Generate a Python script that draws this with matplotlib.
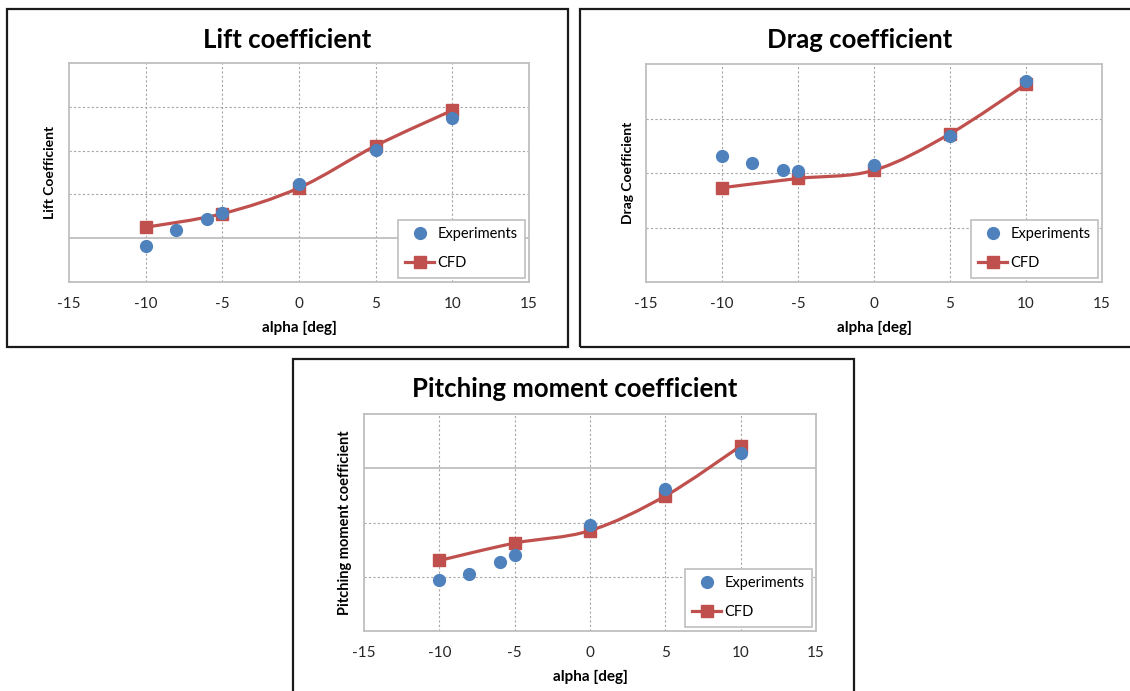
import numpy as np
import matplotlib
matplotlib.use("Agg")
import matplotlib.pyplot as plt
from matplotlib.path import Path
from matplotlib.patches import PathPatch, Rectangle
from matplotlib.lines import Line2D

plt.rcParams['font.family'] = ['Lato', 'DejaVu Sans']

# ---- data ----
alpha_exp = [-10, -8, -6, -5, 0, 5, 10]
alpha_cfd = [-10, -5, 0, 5, 10]

lift_exp = [-0.034, 0.036, 0.088, 0.114, 0.246, 0.404, 0.548]
lift_cfd = [0.050, 0.112, 0.230, 0.422, 0.584]

drag_exp = [0.0232, 0.0218, 0.0205, 0.0203, 0.0214, 0.0268, 0.0369]
drag_cfd = [0.0173, 0.0190, 0.0205, 0.0272, 0.0363]

pitch_exp = [-0.103, -0.0975, -0.086, -0.0795, -0.052, -0.0195, 0.0145]
pitch_cfd = [-0.085, -0.069, -0.0575, -0.0255, 0.0205]

x_ticks = [-15, -10, -5, 0, 5, 10, 15]

BLUE = '#4F81BD'
RED = '#C0504D'
GRID = '#A6A6A6'
FRAME = '#BFBFBF'

W, H = 1130, 691
fig = plt.figure(figsize=(W / 100, H / 100), dpi=100)


def px_axes(x0, y0, x1, y1):
    return fig.add_axes([x0 / W, 1 - y1 / H, (x1 - x0) / W, (y1 - y0) / H])


def px_box(x0, y0, x1, y1):
    fig.patches.append(Rectangle((x0 / W, 1 - y1 / H), (x1 - x0) / W, (y1 - y0) / H,
                                 transform=fig.transFigure, fill=False,
                                 edgecolor='#1a1a1a', linewidth=1.6))


def smooth_path(xs, ys):
    # Bezier smoothing through the points (spreadsheet-style smoothed line)
    pts = np.column_stack([xs, ys]).astype(float)
    n = len(pts)
    verts = [pts[0]]
    codes = [Path.MOVETO]
    for i in range(n - 1):
        p0 = pts[i - 1] if i > 0 else pts[i]
        p1 = pts[i]
        p2 = pts[i + 1]
        p3 = pts[i + 2] if i + 2 < n else pts[i + 1]
        c1 = p1 + (p2 - p0) / 6.0
        c2 = p2 - (p3 - p1) / 6.0
        verts += [c1, c2, p2]
        codes += [Path.CURVE4] * 3
    return Path(verts, codes)


def panel(ax, title_xy, title, ylabel, exp, cfd, ylim, ystep, zero_solid, ylab_size=10):
    ax.set_xlim(-15, 15)
    ax.set_ylim(*ylim)
    ax.set_xticks(x_ticks)
    ax.set_xticklabels([str(t) for t in x_ticks], fontsize=11, color='#262626')
    ax.set_yticks([])
    ax.tick_params(axis='x', length=0, pad=11)
    for s in ax.spines.values():
        s.set_color(FRAME)
        s.set_linewidth(1.3)

    # grid
    for xv in x_ticks[1:-1]:
        ax.axvline(xv, color=GRID, lw=0.8, ls=(0, (2, 2)), zorder=1)
    yv = ylim[0] + ystep
    while yv < ylim[1] - 1e-9:
        if zero_solid and abs(yv) < 1e-9:
            ax.axhline(yv, color=FRAME, lw=1.3, zorder=1)
        else:
            ax.axhline(yv, color=GRID, lw=0.8, ls=(0, (2, 2)), zorder=1)
        yv += ystep

    ax.plot(alpha_exp, exp, 'o', color=BLUE, ms=8.5, mec=BLUE, zorder=4)
    ax.add_patch(PathPatch(smooth_path(alpha_cfd, cfd), fill=False,
                           edgecolor=RED, lw=2.3, zorder=3))
    ax.plot(alpha_cfd, cfd, 's', color=RED, ms=8.5, mec=RED, zorder=3)

    ax.set_xlabel('alpha [deg]', fontsize=11, fontweight='bold', labelpad=7)
    ax.set_ylabel(ylabel, fontsize=ylab_size, fontweight='bold', labelpad=9)

    handles = [Line2D([], [], ls='none', marker='o', color=BLUE, ms=8.5),
               Line2D([], [], color=RED, lw=2.3, marker='s', ms=8.5)]
    leg = ax.legend(handles, ['Experiments', 'CFD'], loc='lower right',
                    bbox_to_anchor=(1.0, 0.0), borderaxespad=0.3,
                    fontsize=10.5, fancybox=False, framealpha=1,
                    edgecolor=FRAME, handlelength=2.0, handletextpad=0.2,
                    labelspacing=1.05, borderpad=0.5, numpoints=1)
    leg.get_frame().set_linewidth(1.2)
    leg.set_zorder(6)

    fig.text(title_xy[0] / W, 1 - title_xy[1] / H, title, fontsize=18.5,
             fontweight='bold', ha='center', va='center')


# panel frames
px_box(7, 9, 568, 347)
px_box(580, 9, 1140, 347)
px_box(293, 359, 854, 700)

ax1 = px_axes(69, 63, 529, 282)
panel(ax1, (287, 40), 'Lift coefficient', 'Lift Coefficient',
      lift_exp, lift_cfd, (-0.2, 0.8), 0.2, True)

ax2 = px_axes(646, 64, 1102, 282)
panel(ax2, (860, 40), 'Drag coefficient', 'Drag Coefficient',
      drag_exp, drag_cfd, (0.0, 0.04), 0.01, False)

ax3 = px_axes(364, 414, 816, 631)
panel(ax3, (575, 389), 'Pitching moment coefficient', 'Pitching moment coefficient',
      pitch_exp, pitch_cfd, (-0.15, 0.05), 0.05, True, ylab_size=10.5)

fig.savefig('out.png', dpi=100, facecolor='white')
